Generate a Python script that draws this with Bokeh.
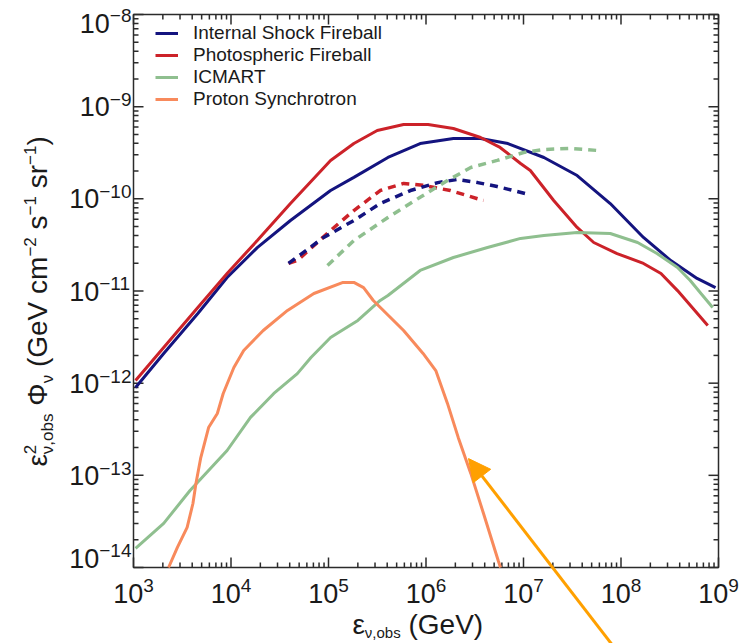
import math
from bokeh.plotting import figure
from bokeh.models import Range1d, Label, Arrow, NormalHead
from bokeh.embed import file_html
from bokeh.resources import INLINE

# ---------------- data ----------------
# Internal Shock Fireball (solid)
is_x = [1.05e3, 2.04e3, 4.57e3, 9.12e3, 1.86e4, 4.07e4, 1.05e5, 1.82e5, 4.07e5, 8.71e5,
        1.91e6, 3.63e6, 6.92e6, 1.62e7, 3.55e7, 7.76e7, 1.70e8, 3.24e8, 6.03e8, 9.33e8]
is_y = [8.97e-13, 2.10e-12, 5.70e-12, 1.40e-11, 2.96e-11, 5.82e-11, 1.23e-10, 1.71e-10, 2.81e-10, 3.98e-10,
        4.52e-10, 4.52e-10, 3.98e-10, 2.81e-10, 1.79e-10, 8.89e-11, 3.81e-11, 2.14e-11, 1.37e-11, 1.09e-11]
# Photospheric Fireball (solid)
ph_x = [1.05e3, 2.04e3, 4.57e3, 9.12e3, 1.86e4, 4.07e4, 1.05e5, 1.82e5, 3.16e5, 5.89e5, 1.05e6, 1.91e6,
        3.63e6, 5.75e6, 9.33e6, 1.175e7, 2.04e7, 3.55e7, 5.25e7, 9.12e7, 1.70e8, 2.57e8, 3.80e8, 7.76e8]
ph_y = [1.07e-12, 2.44e-12, 6.62e-12, 1.55e-11, 3.53e-11, 8.89e-11, 2.61e-10, 3.98e-10, 5.51e-10, 6.41e-10,
        6.41e-10, 5.79e-10, 4.63e-10, 3.61e-10, 2.42e-10, 2.03e-10, 9.59e-11, 4.89e-11, 3.36e-11, 2.55e-11,
        1.99e-11, 1.55e-11, 1.01e-11, 4.23e-12]
# ICMART (solid)
ic_x = [1.05e3, 2.04e3, 3.80e3, 9.12e3, 1.585e4, 2.75e4, 4.79e4, 6.61e4, 1.05e5, 2.0e5, 3.39e5, 4.07e5,
        8.71e5, 1.91e6, 4.27e6, 9.33e6, 1.62e7, 3.55e7, 7.76e7, 1.48e8, 2.34e8, 3.80e8, 5.13e8, 6.61e8, 8.71e8]
ic_y = [1.61e-14, 3.01e-14, 6.85e-14, 1.86e-13, 4.25e-13, 7.73e-13, 1.27e-12, 1.90e-12, 3.13e-12, 4.79e-12,
        7.89e-12, 8.93e-12, 1.67e-11, 2.31e-11, 2.96e-11, 3.72e-11, 4.00e-11, 4.32e-11, 4.21e-11, 3.36e-11,
        2.55e-11, 1.80e-11, 1.30e-11, 9.40e-12, 6.62e-12]
# Proton Synchrotron (solid)
ps_x = [2.29e3, 2.82e3, 3.55e3, 4.07e3, 4.37e3, 4.90e3, 5.89e3, 7.24e3, 8.32e3, 1.07e4, 1.35e4, 2.14e4,
        3.80e4, 7.08e4, 1.41e5, 1.82e5, 2.29e5, 2.88e5, 5.89e5, 9.33e5, 1.26e6, 1.66e6, 2.14e6, 2.88e6,
        3.89e6, 5.50e6, 5.81e6]
ps_y = [1.0e-14, 1.65e-14, 2.72e-14, 4.95e-14, 8.17e-14, 1.56e-13, 3.30e-13, 4.69e-13, 7.73e-13, 1.48e-12,
        2.26e-12, 3.73e-12, 6.15e-12, 9.40e-12, 1.24e-11, 1.24e-11, 1.09e-11, 7.89e-12, 3.73e-12, 2.10e-12,
        1.37e-12, 6.03e-13, 2.58e-13, 1.05e-13, 3.85e-14, 1.19e-14, 1.0e-14]
# dashed companions
ph_d_x = [3.89e4, 4.79e4, 1.05e5, 1.82e5, 3.39e5, 5.89e5, 9.33e5, 1.78e6, 3.89e6]
ph_d_y = [1.99e-11, 2.14e-11, 4.54e-11, 7.46e-11, 1.23e-10, 1.47e-10, 1.40e-10, 1.23e-10, 9.59e-11]
is_d_x = [3.89e4, 8.91e4, 1.82e5, 3.39e5, 6.92e5, 1.32e6, 2.09e6, 3.39e6, 5.37e6, 1.05e7]
is_d_y = [1.99e-11, 3.81e-11, 5.82e-11, 8.89e-11, 1.23e-10, 1.50e-10, 1.62e-10, 1.50e-10, 1.36e-10, 1.14e-10]
ic_d_x = [9.77e4, 1.82e5, 4.07e5, 8.71e5, 1.66e6, 2.88e6, 5.37e6, 1.0e7, 1.62e7, 3.02e7, 5.89e7]
ic_d_y = [1.89e-11, 3.53e-11, 6.28e-11, 1.04e-10, 1.58e-10, 2.19e-10, 2.61e-10, 3.18e-10, 3.43e-10, 3.52e-10, 3.34e-10]

series_names = ["Internal Shock Fireball", "Photospheric Fireball", "ICMART", "Proton Synchrotron"]

# axes extent and ticks
X_MIN, X_MAX = 1e3, 1e9
Y_MIN, Y_MAX = 1e-14, 1e-8
x_ticks = [1e3, 1e4, 1e5, 1e6, 1e7, 1e8, 1e9]
x_tick_exp = ["3", "4", "5", "6", "7", "8", "9"]
y_ticks = [1e-14, 1e-13, 1e-12, 1e-11, 1e-10, 1e-9, 1e-8]
y_tick_exp = ["−14", "−13", "−12", "−11", "−10", "−9", "−8"]

# annotation arrow (tail, head) in data space
arrow_tail = (9.0e7, 1.26e-15)
arrow_head = (2.73e6, 1.52e-13)

# ---------------- layout / styling ----------------
W, H = 747, 643
PX_L, PX_R, PX_T, PX_B = 133, 718, 14, 567          # plot box inside the canvas
FONT = "Liberation Sans"
INK = "#1a1a1a"
AXC = "#2b2b2b"
BLUE, RED, GREEN, ORANGE = "#14147f", "#cc2229", "#8fbf8f", "#f88a5c"
ARROW = "#ffa000"

dec_x = (PX_R - PX_L) / math.log10(X_MAX / X_MIN)
dec_y = (PX_B - PX_T) / math.log10(Y_MAX / Y_MIN)
x_rng = Range1d(X_MIN / 10 ** (PX_L / dec_x), X_MAX * 10 ** ((W - PX_R) / dec_x))
y_rng = Range1d(Y_MIN / 10 ** ((H - PX_B) / dec_y), Y_MAX * 10 ** (PX_T / dec_y))

p = figure(width=W, height=H, x_axis_type="log", y_axis_type="log",
           x_range=x_rng, y_range=y_rng, x_axis_location=None, y_axis_location=None,
           toolbar_location=None, output_backend="svg", min_border=0,
           background_fill_color="white", border_fill_color="white")
p.outline_line_color = None
p.xgrid.visible = False
p.ygrid.visible = False

# plot box
p.quad(left=[X_MIN], right=[X_MAX], bottom=[Y_MIN], top=[Y_MAX], fill_color=None,
       line_color=AXC, line_width=1.5)

# inward tick marks on all four sides
x_minor = [m * 10.0 ** k for k in range(3, 9) for m in range(2, 10)]
y_minor = [m * 10.0 ** k for k in range(-14, -8) for m in range(2, 10)]
for xs, ln in ((x_ticks, 10), (x_minor, 5)):
    p.ray(x=xs, y=[Y_MIN] * len(xs), length=ln, length_units="screen", angle=math.pi / 2,
          line_color=AXC, line_width=1.5)
    p.ray(x=xs, y=[Y_MAX] * len(xs), length=ln, length_units="screen", angle=-math.pi / 2,
          line_color=AXC, line_width=1.5)
for ys, ln in ((y_ticks, 10), (y_minor, 5)):
    p.ray(x=[X_MIN] * len(ys), y=ys, length=ln, length_units="screen", angle=0.0,
          line_color=AXC, line_width=1.5)
    p.ray(x=[X_MAX] * len(ys), y=ys, length=ln, length_units="screen", angle=math.pi,
          line_color=AXC, line_width=1.5)

# ---------------- curves ----------------
LW = 3
p.line(is_x, is_y, line_color=BLUE, line_width=LW, legend_label=series_names[0])
p.line(ph_x, ph_y, line_color=RED, line_width=LW, legend_label=series_names[1])
p.line(ic_x, ic_y, line_color=GREEN, line_width=LW, legend_label=series_names[2])
p.line(ps_x, ps_y, line_color=ORANGE, line_width=LW, legend_label=series_names[3])
p.line(ph_d_x, ph_d_y, line_color=RED, line_width=3.5, line_dash="8 6")
p.line(is_d_x, is_d_y, line_color=BLUE, line_width=3.5, line_dash="8 6")
p.line(ic_d_x, ic_d_y, line_color=GREEN, line_width=3.5, line_dash="8 6")

lg = p.legend[0]
lg.location = (PX_L + 22, H - PX_B + 457)
lg.padding = 0
lg.margin = 0
lg.spacing = 0
lg.border_line_color = None
lg.background_fill_alpha = 0
lg.label_text_font = FONT
lg.label_text_font_size = "19px"
lg.label_text_color = INK
lg.glyph_width = 23
lg.glyph_height = 20
lg.label_height = 20
lg.label_standoff = 15

# ---------------- text helpers ----------------
WID = {' ': 0.278, '(': 0.333, ')': 0.333, ',': 0.278, '−': 0.584, 'G': 0.778, 'V': 0.667, 'e': 0.556,
       'c': 0.5, 'm': 0.833, 's': 0.5, 'r': 0.333, 'o': 0.556, 'b': 0.556, 'ν': 0.5, 'ε': 0.44, 'Φ': 0.8}
MID = 0.35   # distance from the baseline to the "middle" text anchor, in em


def tw(s, size):
    return sum(WID.get(ch, 0.556) for ch in s) * size


def put(text, x, y, dx, dy, size, angle=0.0):
    """Place text whose baseline starts at pixel offset (dx, dy) from data point (x, y)."""
    nx, ny = -math.sin(angle), math.cos(angle)
    p.add_layout(Label(x=x, y=y, x_offset=dx + nx * MID * size, y_offset=dy + ny * MID * size,
                       text=text, angle=angle, text_font=FONT, text_font_size=f"{size}px",
                       text_color=INK, text_align="left", text_baseline="middle"))


def rich(groups, x0, y0, angle, F, f, drop, rise):
    ux, uy = math.cos(angle), math.sin(angle)
    nx, ny = -math.sin(angle), math.cos(angle)
    pos = 0.0
    for g in groups:
        if g == "SP":
            pos += 0.278 * F
            continue
        adv = 0.0
        for text, kind in g:
            size = F if kind == "main" else f
            shift = {"main": 0.0, "sub": -drop, "sup": rise}[kind]
            put(text, X_MIN, Y_MIN, x0 + ux * pos + nx * shift, y0 + uy * pos + ny * shift, size, angle)
            adv = max(adv, tw(text, size))
        pos += adv


# tick labels "10" with a superscript exponent
TF, TE, RAISE = 27, 19, 10
for xv, e in zip(x_ticks, x_tick_exp):
    total = tw("10", TF) + tw(e, TE)
    put("10", xv, Y_MIN, -total / 2, -35, TF)
    put(e, xv, Y_MIN, -total / 2 + tw("10", TF), -35 + RAISE, TE)
for yv, e in zip(y_ticks, y_tick_exp):
    shift = -18 if yv == Y_MAX else (0 if yv == Y_MIN else -9.5)
    ew = tw(e, TE)
    put("10", X_MIN, yv, -2 - ew - tw("10", TF), shift, TF)
    put(e, X_MIN, yv, -2 - ew, shift + RAISE, TE)

# y axis title
rich([[("ε", "main")], [("2", "sup"), ("ν,obs", "sub")], "SP", [("Φ", "main")], [("ν", "sub")], "SP",
      [("(GeV cm", "main")], [("−2", "sup")], "SP", [("s", "main")], [("−1", "sup")], "SP",
      [("sr", "main")], [("−1", "sup")], [(")", "main")]],
     x0=-86, y0=101, angle=math.pi / 2, F=28, f=17, drop=6, rise=12)
# x axis title (kept just inside the lower edge)
rich([[("ε", "main")], [("ν,obs", "sub")], "SP", [("(GeV)", "main")]],
     x0=219, y0=-67, angle=0.0, F=28, f=15, drop=3, rise=12)

# arrow annotation
p.add_layout(Arrow(x_start=arrow_tail[0], y_start=arrow_tail[1], x_end=arrow_head[0], y_end=arrow_head[1],
                   line_color=ARROW, line_width=3,
                   end=NormalHead(size=22, fill_color=ARROW, line_color=ARROW)))

open("out.html", "w").write(file_html(p, INLINE))
